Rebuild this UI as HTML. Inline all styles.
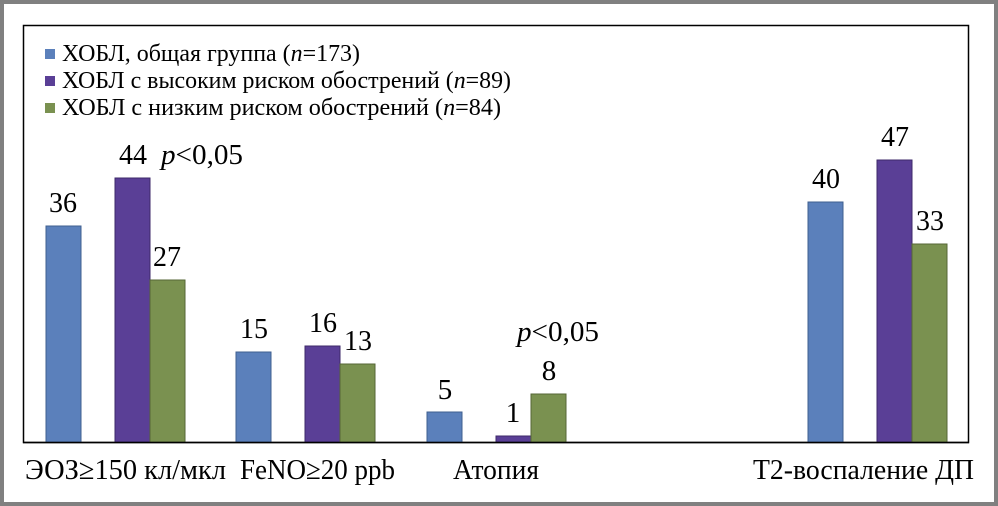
<!DOCTYPE html>
<html><head><meta charset="utf-8"><style>
html,body{margin:0;padding:0;background:#fff}
svg{display:block}
svg text{font-family:"Liberation Serif","Times New Roman","DejaVu Serif",serif !important}
</style></head><body>
<svg width="998" height="506" viewBox="0 0 998 506" xmlns="http://www.w3.org/2000/svg">
<rect x="0" y="0" width="998" height="506" fill="#808080"/>
<rect x="4" y="4" width="990" height="498" fill="#fff"/>
<rect x="23.5" y="25.5" width="945" height="417" fill="none" stroke="#000" stroke-width="1.5"/>
<rect x="45" y="49" width="10" height="10" fill="#5b80bb"/>
<rect x="45" y="76" width="10" height="10" fill="#5a3f96"/>
<rect x="45" y="103" width="10" height="10" fill="#7a9150"/>
<g font-size="24">
<text x="62" y="61" textLength="298" lengthAdjust="spacingAndGlyphs">ХОБЛ, общая группа (<tspan font-style="italic">n</tspan>=173)</text>
<text x="62" y="88" textLength="449" lengthAdjust="spacingAndGlyphs">ХОБЛ с высоким риском обострений (<tspan font-style="italic">n</tspan>=89)</text>
<text x="62" y="115" textLength="439" lengthAdjust="spacingAndGlyphs">ХОБЛ с низким риском обострений (<tspan font-style="italic">n</tspan>=84)</text>
</g>
<g stroke-width="1">
<rect x="46" y="226" width="35" height="216" fill="#5b80bb" stroke="#3f5f8f"/>
<rect x="115" y="178" width="35" height="264" fill="#5a3f96" stroke="#3e2a6a"/>
<rect x="150" y="280" width="35" height="162" fill="#7a9150" stroke="#556636"/>
<rect x="236" y="352" width="35" height="90" fill="#5b80bb" stroke="#3f5f8f"/>
<rect x="305" y="346" width="35" height="96" fill="#5a3f96" stroke="#3e2a6a"/>
<rect x="340" y="364" width="35" height="78" fill="#7a9150" stroke="#556636"/>
<rect x="427" y="412" width="35" height="30" fill="#5b80bb" stroke="#3f5f8f"/>
<rect x="496" y="436" width="35" height="6" fill="#5a3f96" stroke="#3e2a6a"/>
<rect x="531" y="394" width="35" height="48" fill="#7a9150" stroke="#556636"/>
<rect x="808" y="202" width="35" height="240" fill="#5b80bb" stroke="#3f5f8f"/>
<rect x="877" y="160" width="35" height="282" fill="#5a3f96" stroke="#3e2a6a"/>
<rect x="912" y="244" width="35" height="198" fill="#7a9150" stroke="#556636"/>
</g>
<line x1="23" y1="442.5" x2="969" y2="442.5" stroke="#000" stroke-width="1.5"/>
<g font-size="29" text-anchor="middle">
<text x="63" y="212" textLength="28" lengthAdjust="spacingAndGlyphs">36</text>
<text x="133" y="164" textLength="28" lengthAdjust="spacingAndGlyphs">44</text>
<text x="167" y="266" textLength="28" lengthAdjust="spacingAndGlyphs">27</text>
<text x="254" y="338" textLength="28" lengthAdjust="spacingAndGlyphs">15</text>
<text x="323" y="332" textLength="28" lengthAdjust="spacingAndGlyphs">16</text>
<text x="358" y="350" textLength="28" lengthAdjust="spacingAndGlyphs">13</text>
<text x="445" y="399">5</text>
<text x="513" y="422">1</text>
<text x="549" y="380">8</text>
<text x="826" y="188" textLength="28" lengthAdjust="spacingAndGlyphs">40</text>
<text x="895" y="146" textLength="28" lengthAdjust="spacingAndGlyphs">47</text>
<text x="930" y="230" textLength="28" lengthAdjust="spacingAndGlyphs">33</text>
</g>
<g font-size="29">
<text x="161" y="164" textLength="82" lengthAdjust="spacingAndGlyphs"><tspan font-style="italic">p</tspan>&lt;0,05</text>
<text x="517" y="341" textLength="82" lengthAdjust="spacingAndGlyphs"><tspan font-style="italic">p</tspan>&lt;0,05</text>
</g>
<g font-size="29">
<text x="25" y="479" textLength="201" lengthAdjust="spacingAndGlyphs">ЭОЗ≥150 кл/мкл</text>
<text x="240" y="479" textLength="155" lengthAdjust="spacingAndGlyphs">FeNO≥20 ppb</text>
<text x="453" y="479" textLength="86" lengthAdjust="spacingAndGlyphs">Атопия</text>
<text x="753" y="479" textLength="221" lengthAdjust="spacingAndGlyphs">Т2-воспаление ДП</text>
</g>
</svg>
</body></html>
